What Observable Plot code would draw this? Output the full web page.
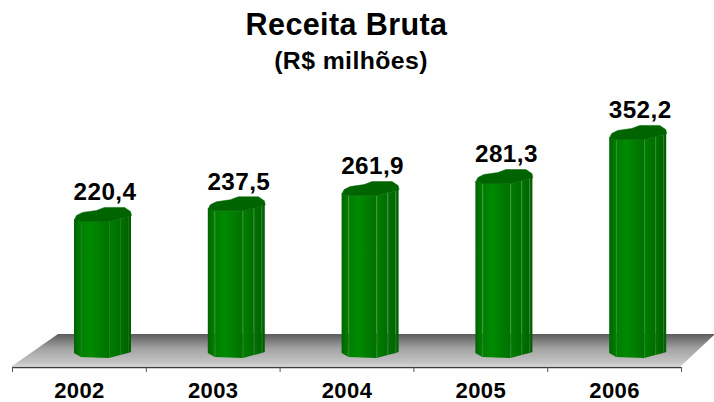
<!DOCTYPE html>
<html><head><meta charset="utf-8">
<script src="https://cdn.jsdelivr.net/npm/d3@7"></script>
<script src="https://cdn.jsdelivr.net/npm/@observablehq/plot@0.6"></script>
<style>html,body{margin:0;padding:0;background:#fff;overflow:hidden}svg{display:block}</style>
</head><body><div id="chart"></div>
<script>
const years = ["2002","2003","2004","2005","2006"];
const receita = [220.4,237.5,261.9,281.3,352.2];
const labels = ["220,4","237,5","261,9","281,3","352,2"];

const pxX = 669/5, pxY = 0.622;
const rows = years.map((year,i)=>({year,i,value:receita[i],label:labels[i]}));
const X = p => p/pxX, Y = p => p/pxY;

// column cross-section: x offset within the band, drop below shoulder at the top, rise at the foot
const edge = [[62,-2,5],[69,0,1],[97,0,0],[108,-3,3],[116,-5,5],[119,-6,6]];
const facets = [
  {a:0,b:1,fill:"url(#fLeft)"},
  {a:1,b:2,fill:"url(#fMain)"},
  {a:2,b:3,fill:"url(#fSide)"},
  {a:3,b:4,fill:"url(#fSide2)"},
  {a:4,b:5,fill:"#006000"}
];
const capPts = [[62,-2],[64,-6],[70,-9],[84,-11],[92,-14],[112,-14],[118,-10],[119,-6],[116,-5],[108,-3],[97,0],[69,0]];

const facetMarks = facets.map(f => Plot.area(rows.flatMap(r=>[edge[f.a],edge[f.b]].map(e=>({
    i:r.i, x:r.i+X(e[0]), y1:r.value-Y(e[1]), y2:Y(e[2])}))),
  {x1:"x",y1:"y1",y2:"y2",z:"i",fill:f.fill,curve:"linear"}));

const seamMarks = [1,2,3,4].map(k => Plot.ruleX(rows,{
  x:r=>r.i+X(edge[k][0]), y1:r=>r.value-Y(edge[k][1]), y2:()=>Y(edge[k][2]),
  stroke:"#3f9f3f",strokeWidth:0.7,strokeOpacity:0.5}));

const topEdge = Plot.line(rows.flatMap(r=>edge.slice(1,5).map(e=>({i:r.i,x:r.i+X(e[0]),y:r.value-Y(e[1])}))),
  {x:"x",y:"y",z:"i",stroke:"#45a545",strokeWidth:0.8,strokeOpacity:0.8});

const caps = Plot.line(rows.flatMap(r=>capPts.map(c=>({i:r.i,x:r.i+X(c[0]),y:r.value-Y(c[1])}))),
  {x:"x",y:"y",z:"i",fill:"#006400",stroke:"#006400",strokeWidth:0.5,curve:"linear-closed"});

const foot = Y(-8), floorTop = Y(24), axisY = Y(-9);
const floor = [{y:foot,x1:0,x2:5},{y:floorTop,x1:X(46),x2:5+X(34)}];

const defs = () => {
  const g = document.createElementNS("http://www.w3.org/2000/svg","g");
  g.innerHTML = `<defs>
  <linearGradient id="floorG" x1="0" y1="0" x2="0" y2="1">
    <stop offset="0" stop-color="#5c5c5c"/><stop offset="0.45" stop-color="#a2a2a2"/><stop offset="0.9" stop-color="#c4c4c4"/><stop offset="1" stop-color="#d4d4d4"/></linearGradient>
  <linearGradient id="fLeft"><stop offset="0" stop-color="#006400"/><stop offset="1" stop-color="#008000"/></linearGradient>
  <linearGradient id="fMain"><stop offset="0" stop-color="#007c00"/><stop offset="0.35" stop-color="#008a00"/><stop offset="1" stop-color="#007000"/></linearGradient>
  <linearGradient id="fSide"><stop offset="0" stop-color="#007e00"/><stop offset="1" stop-color="#006c00"/></linearGradient>
  <linearGradient id="fSide2"><stop offset="0" stop-color="#007400"/><stop offset="1" stop-color="#006200"/></linearGradient>
  </defs>`;
  return g;
};

const chart = Plot.plot({
  width:714,height:402,margin:0,
  style:{fontFamily:"'Liberation Sans',Arial,sans-serif",background:"#fff",color:"#000",letterSpacing:"0.4px"},
  x:{type:"linear",domain:[0,5],range:[12,681],axis:null},
  y:{type:"linear",domain:[0,400],range:[358,358-400*pxY],axis:null},
  marks:[
    defs,
    Plot.area(floor,{y1:"y",x1:"x1",x2:"x2",fill:"url(#floorG)"}),
    ...facetMarks,
    ...seamMarks,
    topEdge,
    caps,
    Plot.ruleY([axisY],{x1:0,x2:5,stroke:"#3c3c3c",strokeWidth:1.5}),
    Plot.ruleX(d3.range(0,6),{x:d=>d,y1:axisY,y2:axisY-Y(5),stroke:"#555",strokeWidth:1}),
    Plot.text(rows,{x:r=>r.i+0.5,y:()=>axisY-Y(23.5),text:"year",fontSize:22,fontWeight:700,fill:"#000"}),
    Plot.text(rows,{x:r=>r.i+X(92.5),y:"value",text:"label",dy:-29,fontSize:24.3,fontWeight:700,fill:"#000"}),
    Plot.text(["Receita Bruta"],{frameAnchor:"top",dx:-11,dy:25,lineAnchor:"middle",fontSize:30.5,fontWeight:700,fill:"#000"}),
    Plot.text(["(R$ milhões)"],{frameAnchor:"top",dx:-6.5,dy:61,lineAnchor:"middle",fontSize:24.8,fontWeight:700,fill:"#000"})
  ]
});
document.getElementById("chart").append(chart);
</script></body></html>
